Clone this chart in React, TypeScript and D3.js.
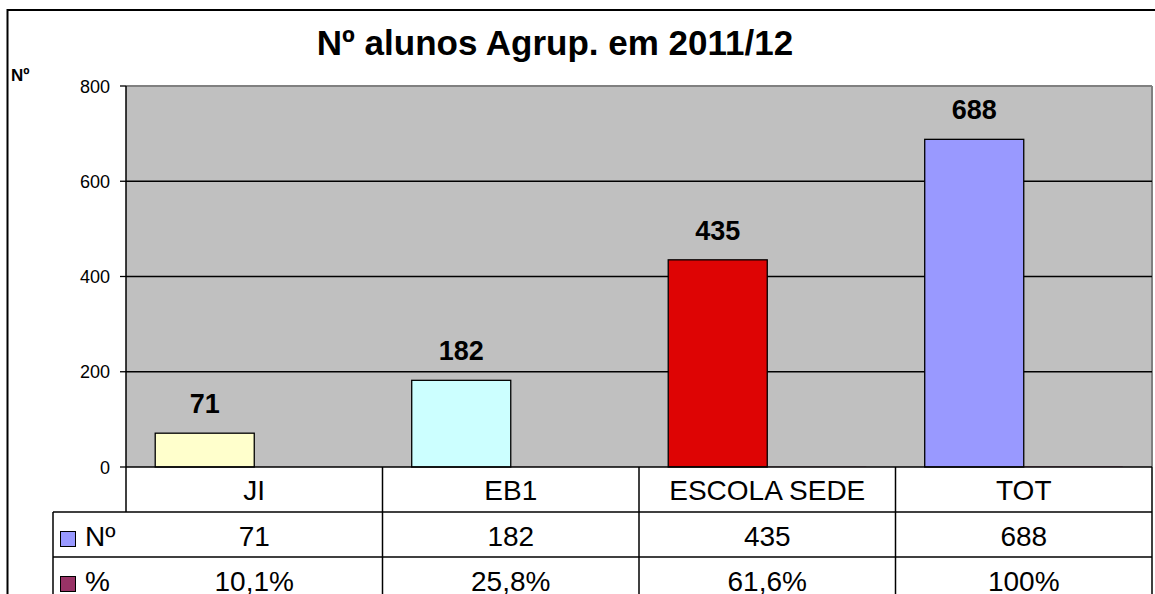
import React from "react";
import * as d3 from "d3";

const categories = ["JI", "EB1", "ESCOLA SEDE", "TOT"];
const seriesNames = ["Nº", "%"];
const nValues = [71, 182, 435, 688];
const pctValues = [0.101, 0.258, 0.616, 1];
const nLabels = ["71", "182", "435", "688"];
const pctLabels = ["10,1%", "25,8%", "61,6%", "100%"];
const yTicks = [0, 200, 400, 600, 800];
const barColors = ["#FFFFCC", "#CCFFFF", "#DE0404", "#9999FF"];
const seriesColors = ["#9999FF", "#993366"];
const title = "Nº alunos Agrup. em 2011/12";
const yAxisTitle = "Nº";

const W = 1155;
const H = 594;
const FONT = "'Liberation Sans', Arial, Helvetica, sans-serif";

export default function App() {
  const plotL = 126, plotR = 1152, plotT = 86, plotB = 467;
  const y = d3.scaleLinear().domain([0, 800]).range([plotB, plotT]);
  const x0 = d3.scaleBand<string>().domain(categories).range([plotL, plotR]);
  const x1 = d3
    .scaleBand<string>()
    .domain(seriesNames)
    .range([0, x0.bandwidth()])
    .paddingInner(0)
    .paddingOuter(0.295);

  const rowH = 45;
  const row0 = plotB;
  const row1 = row0 + rowH;
  const row2 = row1 + rowH;
  const row3 = row2 + rowH;
  const tableL = 53;

  return (
    <svg
      width={W}
      height={H}
      style={{ position: "absolute", left: 0, top: 0, background: "#fff" }}
      fontFamily={FONT}
    >
      <rect x={0} y={0} width={W} height={H} fill="#fff" />
      {/* outer chart border */}
      <rect x={7.5} y={10} width={W + 20} height={H + 20} fill="none" stroke="#000" strokeWidth={2} />

      {/* title */}
      <text x={555} y={55} textAnchor="middle" fontSize={35} fontWeight="bold" fill="#000">
        {title}
      </text>
      <text x={11} y={81} fontSize={17} fontWeight="bold" fill="#000">
        {yAxisTitle}
      </text>

      {/* plot area */}
      <rect x={plotL} y={plotT} width={plotR - plotL} height={plotB - plotT} fill="#C0C0C0" />
      <line x1={plotL} x2={plotR} y1={plotT} y2={plotT} stroke="#808080" strokeWidth={2} />
      <line x1={plotR} x2={plotR} y1={plotT} y2={plotB} stroke="#808080" strokeWidth={2} />

      {/* gridlines + ticks */}
      {yTicks.map((t) => (
        <g key={t}>
          {t > 0 && t < 800 && (
            <line x1={plotL} x2={plotR} y1={y(t)} y2={y(t)} stroke="#000" strokeWidth={1.3} />
          )}
          <line x1={plotL - 6} x2={plotL} y1={y(t)} y2={y(t)} stroke="#000" strokeWidth={1.3} />
          <text x={110} y={y(t) + 6.5} textAnchor="end" fontSize={18} fill="#000">
            {t}
          </text>
        </g>
      ))}

      {/* bars */}
      {categories.map((c, i) => {
        const bx = (x0(c) as number) + (x1("Nº") as number);
        const bw = x1.bandwidth();
        const px = (x0(c) as number) + (x1("%") as number);
        return (
          <g key={c}>
            <rect
              x={bx}
              y={y(nValues[i])}
              width={bw}
              height={y(0) - y(nValues[i])}
              fill={barColors[i]}
              stroke="#000"
              strokeWidth={1.3}
            />
            <rect
              x={px}
              y={y(pctValues[i])}
              width={bw}
              height={y(0) - y(pctValues[i])}
              fill={seriesColors[1]}
            />
            <text
              x={bx + bw / 2}
              y={y(nValues[i]) - 20}
              textAnchor="middle"
              fontSize={27}
              fontWeight="bold"
              fill="#000"
            >
              {nLabels[i]}
            </text>
          </g>
        );
      })}

      {/* y axis */}
      <line x1={plotL} x2={plotL} y1={plotT} y2={H + 10} stroke="#000" strokeWidth={1.5} />
      <line x1={plotL} x2={plotR} y1={plotB} y2={plotB} stroke="#000" strokeWidth={1.5} />

      {/* data table */}
      <rect x={tableL} y={row1} width={plotR - tableL} height={row3 - row1} fill="#fff" />
      <line x1={tableL} x2={plotR} y1={row1} y2={row1} stroke="#000" strokeWidth={1.5} />
      <line x1={tableL} x2={plotR} y1={row2} y2={row2} stroke="#000" strokeWidth={1.5} />
      <line x1={tableL} x2={plotR} y1={row3} y2={row3} stroke="#000" strokeWidth={1.5} />
      <line x1={tableL} x2={tableL} y1={row1} y2={H + 10} stroke="#000" strokeWidth={1.5} />
      {categories.map((c) => (
        <line
          key={"v" + c}
          x1={(x0(c) as number) + x0.bandwidth()}
          x2={(x0(c) as number) + x0.bandwidth()}
          y1={row0}
          y2={H + 10}
          stroke="#000"
          strokeWidth={1.5}
        />
      ))}
      {categories.map((c, i) => {
        const cx = (x0(c) as number) + x0.bandwidth() / 2;
        return (
          <g key={"t" + c}>
            <text x={cx} y={row0 + 33} textAnchor="middle" fontSize={28} fill="#000">
              {c}
            </text>
            <text x={cx} y={row1 + 34} textAnchor="middle" fontSize={28} fill="#000">
              {nLabels[i]}
            </text>
            <text x={cx} y={row2 + 34} textAnchor="middle" fontSize={28} fill="#000">
              {pctLabels[i]}
            </text>
          </g>
        );
      })}
      {seriesNames.map((s, k) => {
        const ry = k === 0 ? row1 : row2;
        return (
          <g key={"leg" + s}>
            <rect x={60.5} y={ry + 19.5} width={15} height={15} fill={seriesColors[k]} stroke="#000" strokeWidth={1} />
            <text x={85} y={ry + 34} fontSize={28} fill="#000">
              {s}
            </text>
          </g>
        );
      })}
    </svg>
  );
}
